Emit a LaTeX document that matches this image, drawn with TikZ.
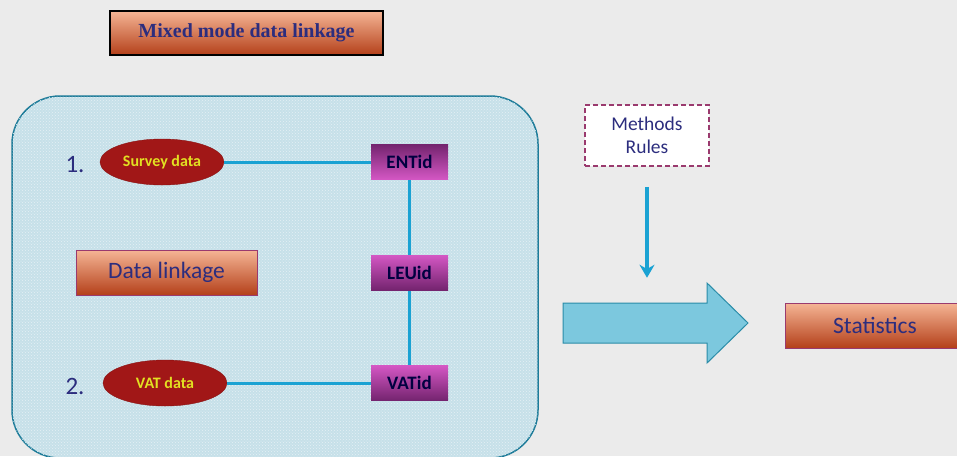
\documentclass[tikz,border=0pt]{standalone}
\usepackage{fontspec}
\setmainfont{Carlito}
\newfontfamily\titlefont{Liberation Serif}
\usetikzlibrary{arrows.meta, positioning, shapes.geometric, patterns}

\definecolor{pagegray}{HTML}{EBEBEB}
\definecolor{panelfill}{HTML}{C6E0E9}
\definecolor{paneledge}{HTML}{1B7A98}
\definecolor{inkblue}{HTML}{2C2D7E}
\definecolor{salmontop}{HTML}{F5B595}
\definecolor{salmonbot}{HTML}{B4401A}
\definecolor{plumedge}{HTML}{9A3A6E}
\definecolor{plumdark}{HTML}{74246F}
\definecolor{plumlight}{HTML}{D457C4}
\definecolor{wine}{HTML}{A11717}
\definecolor{lemon}{HTML}{E2E022}
\definecolor{linkcyan}{HTML}{1AA2D3}
\definecolor{arrowfill}{HTML}{7CC8DE}
\definecolor{arrowedge}{HTML}{2A8CA8}

\begin{document}
\begin{tikzpicture}[x=1pt, y=-1pt,
  gradbox/.style={draw=plumedge, line width=1pt, top color=salmontop, bottom color=salmonbot,
    text=inkblue, minimum height=45pt, font=\fontsize{23.5}{26}\selectfont},
  source/.style={ellipse, fill=wine, draw=wine!85!black, minimum width=124pt, minimum height=46pt,
    inner sep=0pt, text=lemon, font=\bfseries\fontsize{16}{18}\selectfont},
  idbox/.style={minimum width=77pt, minimum height=35pt, text=black!75!blue,
    font=\bfseries\fontsize{19}{21}\selectfont},
  idbox down/.style={idbox, top color=plumdark, bottom color=plumlight},
  idbox up/.style={idbox, top color=plumlight, bottom color=plumdark},
  itemno/.style={text=inkblue, font=\fontsize{25}{27}\selectfont},
  link/.style={draw=linkcyan, line width=3pt}]

  \def\tipgap{20pt}

  \useasboundingbox (0,0) rectangle (957,456);
  \fill[pagegray] (0,0) rectangle (957,456);

  % heading
  \node (title) [draw=black, line width=1.2pt, top color=salmontop, bottom color=salmonbot,
    minimum width=273pt, minimum height=44pt, text=inkblue,
    font=\titlefont\bfseries\fontsize{20}{24}\selectfont] at (246.5,33) {Mixed mode data linkage};

  % linkage panel
  \node (panel) [draw=paneledge, line width=1.5pt, fill=panelfill, rounded corners=48pt,
    postaction={pattern=crosshatch dots, pattern color=white!55!panelfill},
    minimum width=526pt, minimum height=362pt] at (275,277) {};

  \node (one) [itemno] at (75,165) {1.};
  \node (two) [itemno] at (75,386) {2.};
  \node (survey) [source] at (162,162) {Survey data};
  \node (vat) [source] at (165,383) {VAT data};

  \node (entid) [idbox down] at (409.5,162) {ENTid};
  \node (vatid) [idbox up] at (409.5,383) {VATid};

  \draw[link] (survey) -- (entid);
  \draw[link] (vat) -- (vatid);
  \draw[link] (entid.south) -- (vatid.north);

  \node (leuid) [idbox up] at (409.5,272.5) {LEUid};
  \node (linkage) [gradbox, minimum width=181pt] at (166.5,272.5) {Data linkage};

  % methods and output
  \node (methods) [draw=plumedge, line width=1.5pt, dash pattern=on 5pt off 3pt, fill=white,
    minimum width=124pt, minimum height=61pt, align=center, text=inkblue,
    font=\fontsize{19.5}{23}\selectfont] at (647,135.5) {Methods\\Rules};
  \coordinate (rulestail) at ([yshift=-\tipgap]methods.south);
  \coordinate (rulestip) at ([yshift=-111pt]methods.south);
  \draw[link, line width=3.5pt, -{Stealth[length=13pt, width=15pt]}] (rulestail) -- (rulestip);

  \draw[fill=arrowfill, draw=arrowedge, line width=1pt]
    (563,303) -- (707,303) -- (707,283) -- (748,323) -- (707,363) -- (707,343) -- (563,343) -- cycle;

  \node (stats) [gradbox, minimum width=180pt] at (875,325.5) {Statistics};

\end{tikzpicture}
\end{document}
